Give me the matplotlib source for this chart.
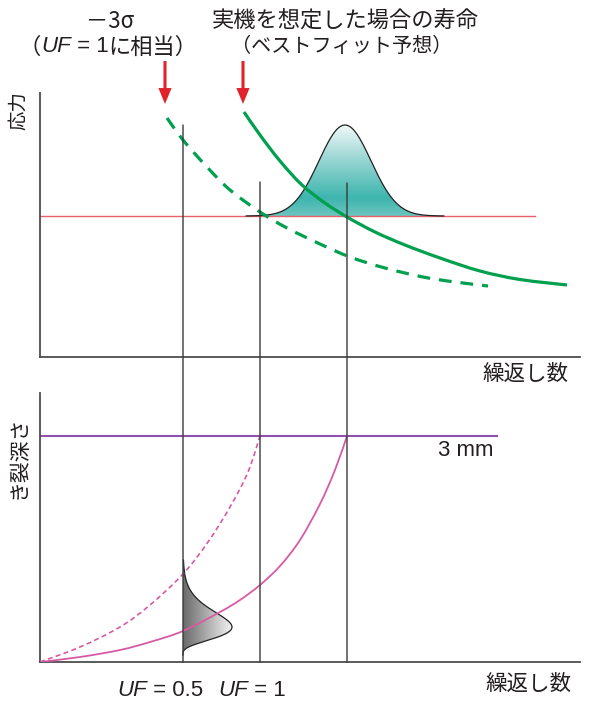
import numpy as np
import matplotlib
matplotlib.use('Agg')
import matplotlib.pyplot as plt
from matplotlib.patches import Polygon, ConnectionPatch, PathPatch, FancyArrowPatch
from matplotlib.path import Path
from matplotlib.colors import LinearSegmentedColormap
from matplotlib.transforms import IdentityTransform

JP = ['Noto Sans CJK JP', 'DejaVu Sans']
LAT = ['Liberation Sans', 'DejaVu Sans']
plt.rcParams['font.family'] = JP

# ---------------- data (arbitrary units) ----------------
# top panel: S-N curves (cycles axis vs stress)
bestfit_N = [204, 220, 240, 262, 285, 307, 335, 365, 400, 440, 480, 527]
bestfit_S = [245, 222, 196, 172, 154, 140, 125, 112, 99, 86, 77.5, 72]
minus3s_N = [127, 143, 167, 190, 220, 247, 280, 310, 345, 383, 415, 448]
minus3s_S = [239, 217, 190, 167, 145, 129, 113, 100, 89, 80, 75, 71]
stress_level = 141
stress_line_end = 495
# life distribution at the stress level
life_mean = 305
life_sigma = 26
life_peak = 91
life_span = 3.8
# reference lives (cycles axis) and top ends of their marker lines (stress axis)
uf05_N, uf1_N, best_N = 143, 220, 307
uf05_top, uf1_top, best_top = 232, 175, 174

# bottom panel: crack growth curves (cycles vs crack depth)
crack_best_N = [0, 40, 80, 110, 143, 180, 200, 220, 240, 260, 280, 295, 307]
crack_best_a = [0, 5, 12, 20, 31, 50, 62, 77, 96, 122, 158, 192, 226]
crack_3s_N = [0, 40, 80, 110, 143, 168, 190, 208, 220]
crack_3s_a = [0, 15, 35, 57, 88, 120, 155, 190, 226]
depth_limit = 226          # 3 mm
depth_line_end = 457
# crack depth distribution at UF = 0.5
dist_a0 = 7
dist_range = 95
dist_mode = 28
dist_width = 49
dist_shape = 4

W, H = 590, 706
fig = plt.figure(figsize=(W / 100, H / 100), dpi=100)
fig.patch.set_facecolor('white')

spine_c = '#4d4d4d'
green = '#00a04e'
pink = '#d75aa5'
vline_c = '#3a3a3a'
txt_c = '#231f20'


def smooth_path(xs, ys):
    """Catmull-Rom spline through the read points, drawn as cubic Bezier segments."""
    p = np.column_stack([xs, ys]).astype(float)
    verts = [p[0]]
    codes = [Path.MOVETO]
    n = len(p)
    for i in range(n - 1):
        p0 = p[i - 1] if i > 0 else p[i]
        p1, p2 = p[i], p[i + 1]
        p3 = p[i + 2] if i + 2 < n else p[i + 1]
        verts += [p1 + (p2 - p0) / 6, p2 - (p3 - p1) / 6, p2]
        codes += [Path.CURVE4] * 3
    return Path(verts, codes)


def curve(ax, xs, ys, **kw):
    ax.add_patch(PathPatch(smooth_path(xs, ys), facecolor='none', capstyle='butt', **kw))


ax1 = fig.add_axes([40 / W, 1 - 357 / H, 540 / W, (357 - 93) / H])
ax2 = fig.add_axes([40 / W, 1 - 662 / H, 540 / W, (662 - 393) / H])
for ax in (ax1, ax2):
    ax.patch.set_alpha(0)
    for s in ('top', 'right'):
        ax.spines[s].set_visible(False)
    for s in ('left', 'bottom'):
        ax.spines[s].set_color(spine_c)
        ax.spines[s].set_linewidth(1.3)
    ax.set_xticks([])
    ax.set_yticks([])

# ---- top panel ----
ax1.plot([0, stress_line_end], [stress_level, stress_level], color='#e8606a', lw=1.0, zorder=2)

gx = np.linspace(life_mean - life_span * life_sigma, life_mean + life_span * life_sigma, 300)
gy = stress_level + life_peak * np.exp(-0.5 * ((gx - life_mean) / life_sigma) ** 2)
poly = Polygon(np.column_stack([np.r_[gx, gx[::-1]], np.r_[gy, np.full_like(gy, stress_level)]]),
               closed=True, facecolor='none', edgecolor='none')
ax1.add_patch(poly)
teal = LinearSegmentedColormap.from_list('teal', [(0, '#6cc4bf'), (0.2, '#3db5ae'),
                                                  (0.6, '#94d4d1'), (1.0, '#f0f8f8')])
grad = np.linspace(0, 1, 256).reshape(-1, 1)
im = ax1.imshow(grad, extent=[gx[0], gx[-1], stress_level, stress_level + life_peak],
                origin='lower', aspect='auto', cmap=teal, zorder=1)
im.set_clip_path(poly)
ax1.plot(gx, gy, color='#222222', lw=0.9, zorder=3)

curve(ax1, minus3s_N, minus3s_S, edgecolor=green, lw=2.3, linestyle=(0, (4, 2.8)), zorder=4,
      clip_on=False)
curve(ax1, bestfit_N, bestfit_S, edgecolor=green, lw=2.3, zorder=4, clip_on=False)

# ---- bottom panel ----
ax2.plot([0, depth_line_end], [depth_limit, depth_limit], color='#8e4fae', lw=1.5, zorder=2)
curve(ax2, crack_3s_N, crack_3s_a, edgecolor=pink, lw=1.2, linestyle=(0, (3, 2)), zorder=3)
curve(ax2, crack_best_N, crack_best_a, edgecolor=pink, lw=1.3, zorder=3)

d = np.linspace(0, dist_range, 300)
wd = dist_width * (d / dist_mode) ** dist_shape * np.exp(dist_shape * (1 - d / dist_mode))
px = uf05_N + wd
py = dist_a0 + d
dpoly = Polygon(np.column_stack([np.r_[px, np.full_like(px, uf05_N)[::-1]], np.r_[py, py[::-1]]]),
                closed=True, facecolor='none', edgecolor='none')
ax2.add_patch(dpoly)
gray = LinearSegmentedColormap.from_list('gr', ['#6a6a6a', '#f2f2f2'])
hgrad = np.linspace(0, 1, 256).reshape(1, -1)
im2 = ax2.imshow(hgrad, extent=[uf05_N, uf05_N + dist_width, dist_a0, dist_a0 + dist_range],
                 origin='lower', aspect='auto', cmap=gray, zorder=2.5)
im2.set_clip_path(dpoly)
ax2.plot(px, py, color='#222222', lw=0.9, zorder=2.6)

ax1.set_xlim(0, 540)
ax1.set_ylim(0, 264)
ax2.set_xlim(0, 540)
ax2.set_ylim(0, 269)

# vertical marker lines spanning both panels
for n, top in ((uf05_N, uf05_top), (uf1_N, uf1_top), (best_N, best_top)):
    cp = ConnectionPatch(xyA=(n, top), coordsA=ax1.transData, xyB=(n, 0), coordsB=ax2.transData,
                         color=vline_c, lw=1.0, zorder=5)
    fig.add_artist(cp)

# ---- arrows ----
for xa in (165, 243):
    fig.add_artist(FancyArrowPatch(
        (xa, H - 61), (xa, H - 104), transform=IdentityTransform(),
        arrowstyle='simple,head_length=1.15,head_width=0.95,tail_width=0.22',
        mutation_scale=10, color='#e0232a', lw=0, shrinkA=0, shrinkB=0))

# ---- text ----
renderer = fig.canvas.get_renderer()


def rich(xc, yc, pieces, size):
    objs = []
    total = 0
    for s, fam, style in pieces:
        t = fig.text(0, H - yc, s, transform=IdentityTransform(), fontsize=size,
                     family=fam, style=style, ha='left', va='center', color=txt_c)
        w = t.get_window_extent(renderer).width
        objs.append((t, w))
        total += w
    x = xc - total / 2
    for t, w in objs:
        t.set_x(x)
        x += w


def ptext(x, y, s, size, fam=JP, **kw):
    fig.text(x / W, 1 - y / H, s, fontsize=size, family=fam, color=txt_c, **kw)


ptext(110, 21, '－3σ', 16, ha='center', va='center')
rich(108, 47, [('（', JP, 'normal'), ('UF', LAT, 'italic'), (' = 1', LAT, 'normal'),
               ('に相当）', JP, 'normal')], 16)
ptext(345, 21, '実機を想定した場合の寿命', 16, ha='center', va='center')
ptext(342, 47, '（ベストフィット予想）', 14.5, ha='center', va='center')

ptext(19, 111, '応力', 14, ha='center', va='center', rotation=90)
ptext(19, 457, 'き裂深さ', 15, ha='center', va='center', rotation=90)
ptext(525, 374, '繰返し数', 15.5, ha='center', va='center')
ptext(528, 684, '繰返し数', 15.5, ha='center', va='center')
ptext(466, 451, '3 mm', 16, fam=LAT, ha='center', va='center')

rich(160, 691, [('UF', LAT, 'italic'), (' = 0.5', LAT, 'normal')], 16)
rich(252, 691, [('UF', LAT, 'italic'), (' = 1', LAT, 'normal')], 16)

fig.savefig('out.png', dpi=100, facecolor='white')
